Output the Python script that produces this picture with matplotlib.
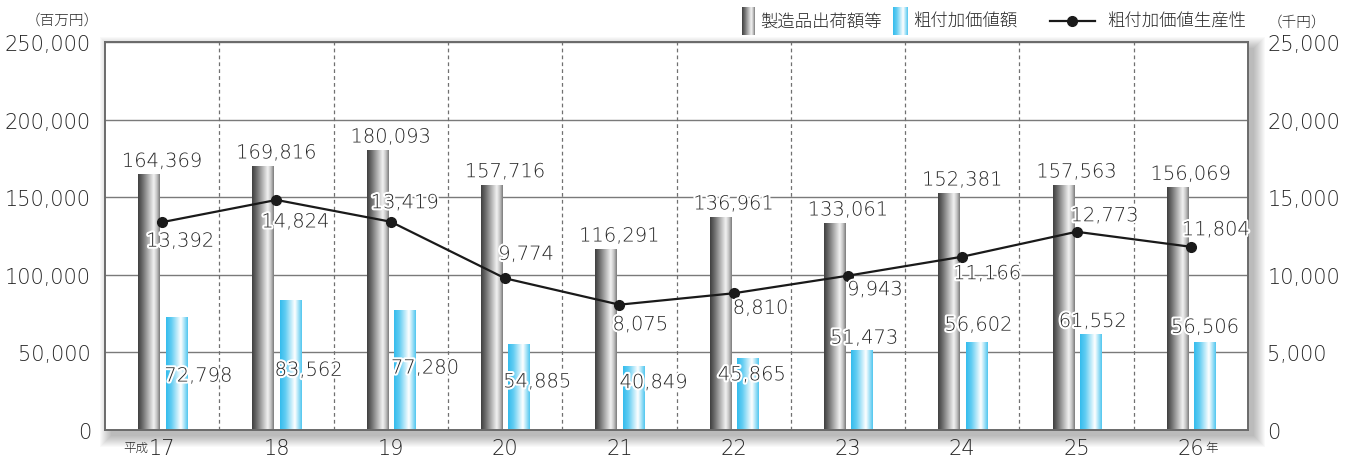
import numpy as np
import matplotlib
matplotlib.use("Agg")
import matplotlib.pyplot as plt
import matplotlib.patheffects as pe
from matplotlib.colors import LinearSegmentedColormap
from matplotlib.patches import Rectangle

plt.rcParams["font.family"] = ["DejaVu Sans", "Noto Sans CJK JP"]
plt.rcParams["font.weight"] = "light"

# ── data ─────────────────────────────────────────────────────────────
years = ["17", "18", "19", "20", "21", "22", "23", "24", "25", "26"]
shipments = [164369, 169816, 180093, 157716, 116291, 136961, 133061, 152381, 157563, 156069]
value_added = [72798, 83562, 77280, 54885, 40849, 45865, 51473, 56602, 61552, 56506]
productivity = [13392, 14824, 13419, 9774, 8075, 8810, 9943, 11166, 12773, 11804]
left_ticks = [0, 50000, 100000, 150000, 200000, 250000]
right_ticks = [0, 5000, 10000, 15000, 20000, 25000]
series_names = ["製造品出荷額等", "粗付加価値額", "粗付加価値生産性"]

# label placement in pixels (style only)
prod_off = [(18, -19), (19, -22), (14, 19), (21, 24), (21, -20),
            (27, -15), (27, -14), (25, -17), (28, 16), (25, 17)]
va_off = [(22, -59), (18, -70), (20, -58), (18, -37), (20, -16),
          (4, -16), (2, 12), (2, 17), (2, 13), (0, 15)]

W, H = 1346, 460
TXT = "#262626"
fig = plt.figure(figsize=(W / 100, H / 100), dpi=100)

# background layer in pixel coords (shadow + legend)
bg = fig.add_axes([0, 0, 1, 1], zorder=-1)
bg.axis("off")

L, R, T, B = 105, 1248, 43, 431
ax = fig.add_axes([L / W, 1 - B / H, (R - L) / W, (B - T) / H])

gray_cm = LinearSegmentedColormap.from_list(
    "g", [(0, "#3e3e3e"), (0.2, "#6a6a6a"), (0.72, "#f2f2f2"), (0.86, "#c4c4c4"), (1, "#7a7a7a")])
blue_cm = LinearSegmentedColormap.from_list(
    "b", [(0, "#33bced"), (0.25, "#62cdf2"), (0.68, "#ffffff"), (1, "#4fc6ef")])
grad = np.linspace(0, 1, 256)[np.newaxis, :]

x = np.arange(len(years))
bw = 0.19
b1 = ax.bar(x - 0.115, shipments, bw, color="none", zorder=2)
b2 = ax.bar(x + 0.125, value_added, bw, color="none", zorder=2)
for bars, cm in ((b1, gray_cm), (b2, blue_cm)):
    for r in bars:
        ax.imshow(grad, extent=(r.get_x(), r.get_x() + r.get_width(), 0, r.get_height()),
                  aspect="auto", cmap=cm, zorder=2, interpolation="bilinear")

ax.set_xlim(-0.5, len(years) - 0.5)
ax.set_ylim(0, 250000)
ax.set_yticks(left_ticks)
ax.set_yticklabels([f"{v:,}" for v in left_ticks], fontsize=15, color=TXT)
ax.yaxis.grid(True, color="#7a7a7a", lw=1)
ax.set_axisbelow(True)
for k in range(1, len(years)):
    ax.axvline(k - 0.5, color="#707070", lw=0.9, ls=(0, (3, 2.5)), zorder=1)
ax.set_xticks(x)
ax.set_xticklabels(years, fontsize=15, color=TXT)
ax.tick_params(length=0)
ax.tick_params(axis="y", pad=10)
ax.tick_params(axis="x", pad=6)
for s in ax.spines.values():
    s.set_color("#6a6a6a")
    s.set_linewidth(1.2)

halo = [pe.withStroke(linewidth=3, foreground="white")]
for r, v in zip(b1, shipments):
    ax.annotate(f"{v:,}", (r.get_x() + r.get_width() / 2 + 0.115, v), xytext=(0, 4),
                textcoords="offset pixels", ha="center", va="bottom",
                fontsize=14, color=TXT, path_effects=halo, zorder=6)
for r, v, (dx, dy) in zip(b2, value_added, va_off):
    ax.annotate(f"{v:,}", (r.get_x() + r.get_width() / 2, v), xytext=(dx, dy),
                textcoords="offset pixels", ha="center", va="center",
                fontsize=14, color=TXT, path_effects=halo, zorder=6)

ax2 = ax.twinx()
ax2.set_ylim(0, 25000)
ax2.set_yticks(right_ticks)
ax2.set_yticklabels([f"{v:,}" for v in right_ticks], fontsize=15, color=TXT)
ax2.tick_params(length=0, pad=14)
for s in ax2.spines.values():
    s.set_color("#6a6a6a")
    s.set_linewidth(1.2)
ax2.plot(x, productivity, color="#1a1a1a", lw=1.6, marker="o", ms=7, zorder=5)
for xi, v, (dx, dy) in zip(x, productivity, prod_off):
    ax2.annotate(f"{v:,}", (xi, v), xytext=(dx, dy), textcoords="offset pixels",
                 ha="center", va="center", fontsize=14, color=TXT,
                 path_effects=halo, zorder=6)

# era / unit marks on the x axis
ax.annotate("平成", (0, 0), xytext=(-14, -17), textcoords="offset pixels",
            ha="right", va="center", fontsize=9, color=TXT, annotation_clip=False)
ax.annotate("年", (len(years) - 1, 0), xytext=(14, -17), textcoords="offset pixels",
            ha="left", va="center", fontsize=9, color=TXT, annotation_clip=False)

# drop shadow around the plot frame
for i in range(12):
    bg.add_patch(Rectangle((L + 6 - i, T + 6 - i), (R - L) + 2 * i, (B - T) + 2 * i,
                           facecolor="#000000", edgecolor="none", alpha=0.022))

# legend
bg.imshow(grad, extent=(742, 755, 36, 8), aspect="auto", cmap=gray_cm)
bg.imshow(grad, extent=(893, 908, 36, 8), aspect="auto", cmap=blue_cm)
bg.plot([1050, 1095], [22, 22], color="#1a1a1a", lw=1.6)
bg.plot([1072], [22], "o", color="#1a1a1a", ms=7)
bg.text(760, 22, series_names[0], fontsize=12.5, va="center", color=TXT)
bg.text(913, 22, series_names[1], fontsize=12.5, va="center", color=TXT)
bg.text(1107, 22, series_names[2], fontsize=12.5, va="center", color=TXT)
bg.text(62, 20, "（百万円）", fontsize=10.5, ha="center", va="center", color=TXT)
bg.text(1297, 22, "（千円）", fontsize=10.5, ha="center", va="center", color=TXT)
bg.set_xlim(0, W)
bg.set_ylim(H, 0)

fig.savefig("out.png", dpi=100)
